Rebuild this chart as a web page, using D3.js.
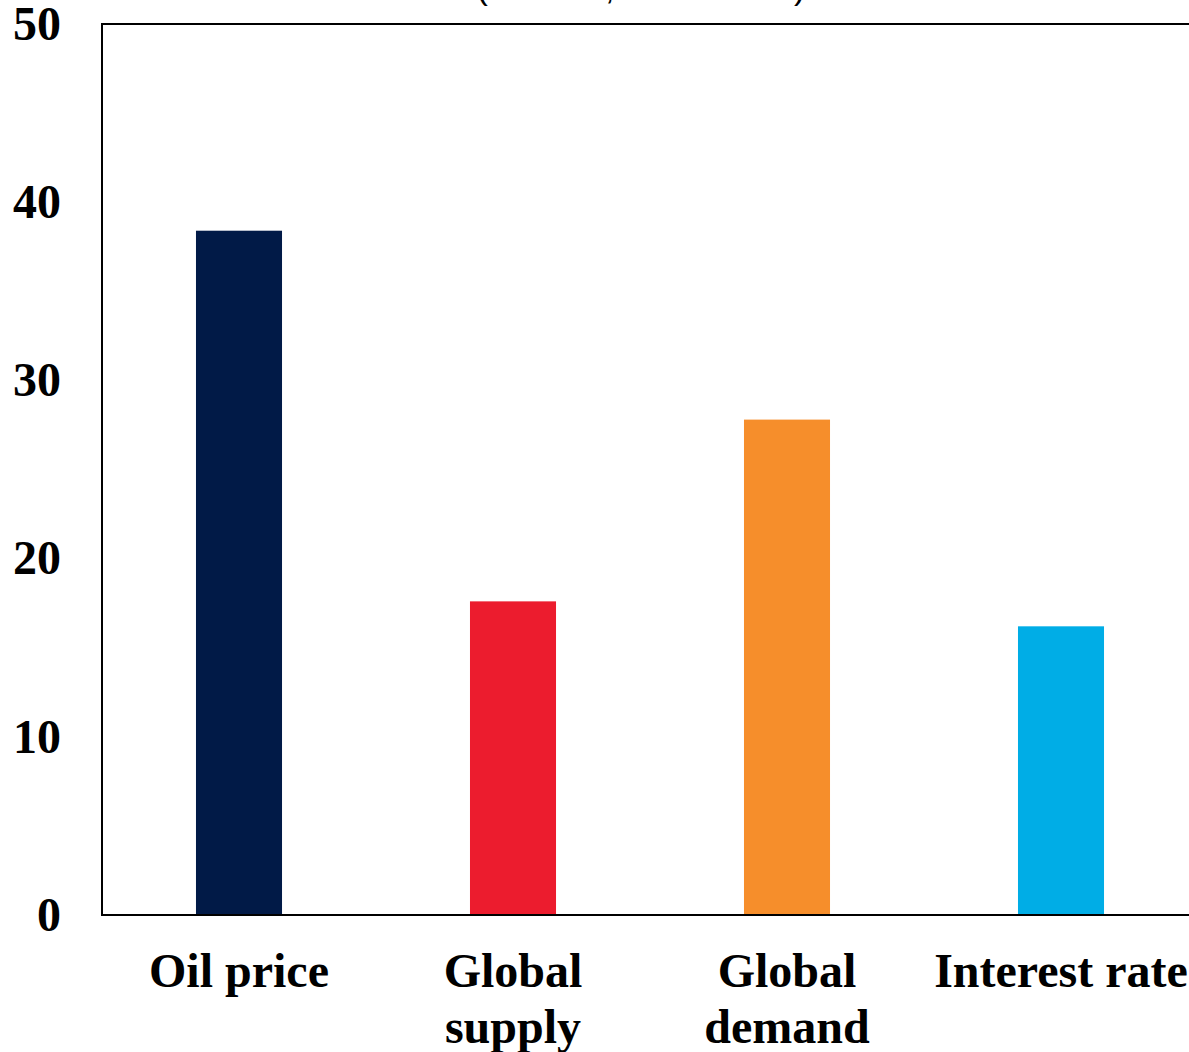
<!DOCTYPE html>
<html>
<head>
<meta charset="utf-8">
<script src="https://cdn.jsdelivr.net/npm/d3@7"></script>
<style>
  html, body { margin: 0; padding: 0; background: #fff; overflow: hidden; }
  svg { display: block; }
</style>
</head>
<body>
<svg id="chart" width="1189" height="1052"></svg>
<script>
const categories = ["Oil price", "Global supply", "Global demand", "Interest rate"];
const categoryLines = [["Oil price"], ["Global", "supply"], ["Global", "demand"], ["Interest rate"]];
const values = [38.4, 17.6, 27.8, 16.2];
const colors = ["#011a47", "#ec1c2e", "#f68e2b", "#00ade6"];
const yTicks = [0, 10, 20, 30, 40, 50];
const titleText = "(Percent, 2021\u20132023)";

(function () {
const svg = d3.select("#chart");
const plotLeft = 102, plotRight = 1198, plotTop = 24, plotBottom = 915;

const x = d3.scaleBand().domain(categories).range([plotLeft, plotRight])
  .paddingInner(0.686).paddingOuter(0.343);
const y = d3.scaleLinear().domain([0, 50]).range([plotBottom, plotTop]);

// title (mostly cut off at top, as in the reference)
svg.append("text")
  .attr("x", 641).attr("y", -1.5)
  .attr("text-anchor", "middle")
  .attr("font-family", "Liberation Sans, Arial, sans-serif")
  .attr("font-size", 34)
  .attr("fill", "#000")
  .text(titleText);

// bars
svg.selectAll("rect.bar").data(categories).enter().append("rect")
  .attr("class", "bar")
  .attr("x", d => x(d))
  .attr("width", x.bandwidth())
  .attr("y", (d, i) => y(values[i]))
  .attr("height", (d, i) => y(0) - y(values[i]))
  .attr("fill", (d, i) => colors[i]);

// frame
svg.append("rect")
  .attr("x", plotLeft).attr("y", plotTop)
  .attr("width", plotRight - plotLeft).attr("height", plotBottom - plotTop)
  .attr("fill", "none").attr("stroke", "#000").attr("stroke-width", 2);

// y axis
const yAxis = d3.axisLeft(y).tickValues(yTicks).tickSize(0).tickPadding(41).tickFormat(d3.format("d"));
const gy = svg.append("g").attr("transform", `translate(${plotLeft},0)`).call(yAxis);
gy.select(".domain").remove();
gy.selectAll("text")
  .attr("font-family", "Liberation Serif, Times New Roman, serif")
  .attr("font-weight", "bold")
  .attr("font-size", 48)
  .attr("fill", "#000");

// x labels
const gx = svg.append("g");
categories.forEach((c, i) => {
  const cx = x(c) + x.bandwidth() / 2;
  const t = gx.append("text")
    .attr("x", cx)
    .attr("y", 987)
    .attr("text-anchor", "middle")
    .attr("font-family", "Liberation Serif, Times New Roman, serif")
    .attr("font-weight", "bold")
    .attr("font-size", 48)
    .attr("fill", "#000");
  categoryLines[i].forEach((ln, j) => {
    t.append("tspan").attr("x", cx).attr("dy", j === 0 ? 0 : 56).text(ln);
  });
});
})();
</script>
</body>
</html>
